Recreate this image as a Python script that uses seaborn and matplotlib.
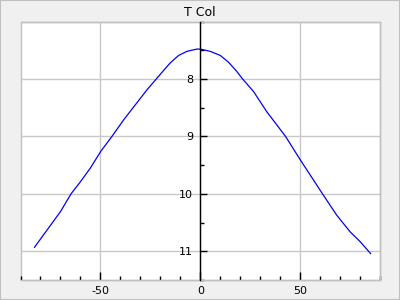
import matplotlib
matplotlib.use("Agg")
import matplotlib.pyplot as plt
from matplotlib.ticker import MultipleLocator
from matplotlib.patches import Rectangle
import seaborn as sns
import pandas as pd

plt.rcParams['axes.unicode_minus'] = False
plt.rcParams['font.family'] = ['DejaVu Sans']

title = "T Col"
x_vals = [-83, -76.7, -70, -64.7, -60, -55, -49.8, -44.2, -38.3, -32.5, -26.7, -22, -18.3,
          -15, -10.8, -6.7, -1.7, 0, 5, 10, 14.2, 18.3, 21.2, 26.7, 33.3, 42.7, 50.3,
          56.7, 61.2, 68.3, 75, 80, 85.3]
y_vals = [10.93, 10.63, 10.31, 10.0, 9.79, 9.55, 9.26, 9.0, 8.71, 8.45, 8.19, 8.0, 7.85,
          7.72, 7.59, 7.52, 7.48, 7.48, 7.52, 7.59, 7.71, 7.87, 8.0, 8.22, 8.57, 9.0, 9.42,
          9.76, 10.0, 10.37, 10.66, 10.83, 11.04]
x_ticks = [-50, 0, 50]
y_ticks = [8, 9, 10, 11]

df = pd.DataFrame({"x": x_vals, "y": y_vals})

fig = plt.figure(figsize=(4, 3), dpi=100, facecolor="#f0f0f0")
fig.patches.append(Rectangle((0, 0), 1, 1, transform=fig.transFigure, fill=False,
                             edgecolor="#c0c0c0", linewidth=1.5))
ax = fig.add_axes([20.5 / 400, 20 / 300, 359.5 / 400, 258.5 / 300])
ax.set_facecolor("white")

sns.lineplot(data=df, x="x", y="y", ax=ax, color="#0000ff", linewidth=0.9,
             estimator=None, sort=False)

ax.set_xlim(-90, 90)
ax.set_ylim(11.5, 7.0)
ax.set_xticks(x_ticks)
ax.set_yticks(y_ticks)
ax.xaxis.set_minor_locator(MultipleLocator(10))
ax.yaxis.set_minor_locator(MultipleLocator(0.5))
ax.set_xlabel("")
ax.set_ylabel("")
ax.grid(True, which="major", color="#c8c8c8", linewidth=1)
ax.set_axisbelow(True)

for s in ["top", "right", "bottom"]:
    ax.spines[s].set_color("#c0c0c0")
    ax.spines[s].set_linewidth(1)
ax.spines["left"].set_position(("data", 0))
ax.spines["left"].set_color("black")
ax.spines["left"].set_linewidth(1)
ax.spines["left"].set_zorder(3)
ax.add_patch(Rectangle((0, 0), 1, 1, transform=ax.transAxes, fill=False,
                       edgecolor="#c0c0c0", linewidth=1, clip_on=False, zorder=0.5))

ax.tick_params(axis="x", which="major", direction="in", length=6, width=1, labelsize=8, pad=4, colors="black")
ax.tick_params(axis="x", which="minor", direction="in", length=3, width=1)
ax.tick_params(axis="y", which="major", direction="in", length=5, width=1, labelsize=8, pad=5)
ax.tick_params(axis="y", which="minor", direction="in", length=3, width=1)

fig.text(0.5, 1 - 12 / 300, title, ha="center", va="center", fontsize=9)

fig.savefig("out.png", dpi=100, facecolor=fig.get_facecolor())
